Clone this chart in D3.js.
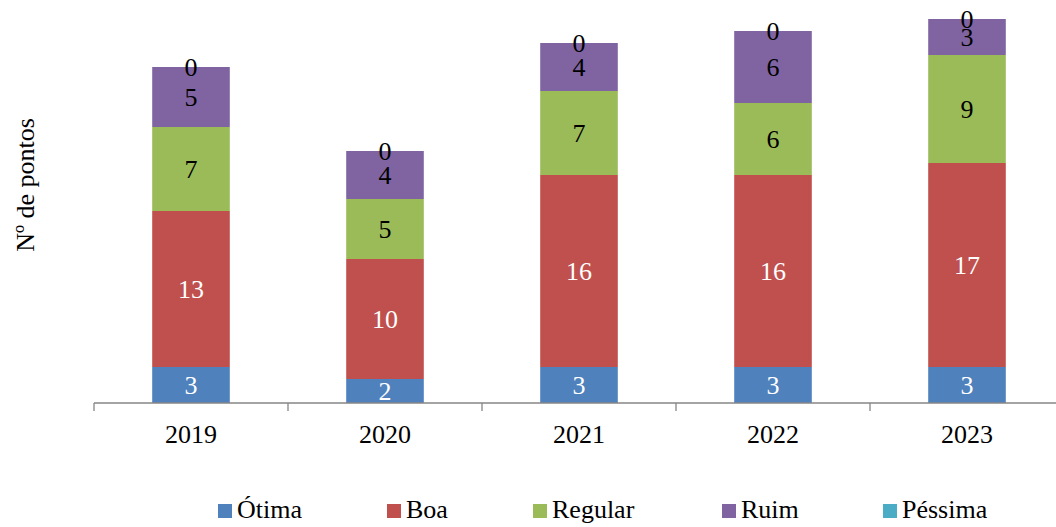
<!DOCTYPE html>
<html><head><meta charset="utf-8">
<script src="https://cdn.jsdelivr.net/npm/d3@7"></script>
<style>body{margin:0;background:#fff}</style>
</head><body><svg id="c" width="1056" height="527"></svg>
<script>
const categories = ["2019","2020","2021","2022","2023"];
const seriesNames = ["Ótima","Boa","Regular","Ruim","Péssima"];
const otima = [3,2,3,3,3];
const boa = [13,10,16,16,17];
const regular = [7,5,7,6,9];
const ruim = [5,4,4,6,3];
const pessima = [0,0,0,0,0];
const colors = ["#4F81BD","#C0504D","#9BBB59","#8064A2","#4BACC6"];
const labelColors = ["#fff","#fff","#000","#000","#000"];
const FONT = "Liberation Serif";
const FS = 26;

const rows = categories.map((c,i)=>({cat:c,"Ótima":otima[i],"Boa":boa[i],"Regular":regular[i],"Ruim":ruim[i],"Péssima":pessima[i]}));
const stack = d3.stack().keys(seriesNames)(rows);

const svg = d3.select("#c");
const x = d3.scaleBand().domain(categories).range([94,1064]).padding(0);
const y = d3.scaleLinear().domain([0,32]).range([403,19]);
const bw = x.bandwidth()*0.4;

const g = svg.append("g");
stack.forEach((s,si)=>{
  g.selectAll(null).data(s).enter().append("rect")
    .attr("x",d=>x(d.data.cat)+x.bandwidth()/2-bw/2)
    .attr("y",d=>y(d[1]))
    .attr("width",bw)
    .attr("height",d=>y(d[0])-y(d[1]))
    .attr("fill",colors[si]);
});
stack.forEach((s,si)=>{
  g.selectAll(null).data(s).enter().append("text")
    .attr("x",d=>x(d.data.cat)+x.bandwidth()/2)
    .attr("y",d=>(y(d[0])+y(d[1]))/2)
    .attr("dy","0.33em")
    .attr("text-anchor","middle")
    .attr("font-family",FONT)
    .attr("font-size",FS)
    .attr("fill",labelColors[si])
    .text(d=>d[1]-d[0]);
});

// axis
const ax = svg.append("g").attr("transform","translate(0,403)");
ax.append("line").attr("x1",94).attr("x2",1064).attr("stroke","#868686").attr("stroke-width",1.3);
const tickPos = categories.map(c=>x(c)).concat([x(categories[categories.length-1])+x.bandwidth()]);
ax.selectAll(null).data(tickPos).enter().append("line")
  .attr("x1",d=>d).attr("x2",d=>d).attr("y1",0).attr("y2",8)
  .attr("stroke","#868686").attr("stroke-width",1.3);
ax.selectAll(null).data(categories).enter().append("text")
  .attr("x",d=>x(d)+x.bandwidth()/2).attr("y",40)
  .attr("text-anchor","middle").attr("font-family",FONT).attr("font-size",FS).attr("fill","#000").text(d=>d);

svg.append("text").attr("transform","translate(34,185) rotate(-90)")
  .attr("text-anchor","middle").attr("font-family",FONT).attr("font-size",FS).attr("fill","#000").text("Nº de pontos");

// legend
const legX = [218,387,533,722,883];
const leg = svg.append("g");
seriesNames.forEach((n,i)=>{
  leg.append("rect").attr("x",legX[i]).attr("y",504).attr("width",14).attr("height",14).attr("fill",colors[i]);
  leg.append("text").attr("x",legX[i]+19).attr("y",518).attr("font-family",FONT).attr("font-size",FS).attr("fill","#000").text(n);
});
</script></body></html>
